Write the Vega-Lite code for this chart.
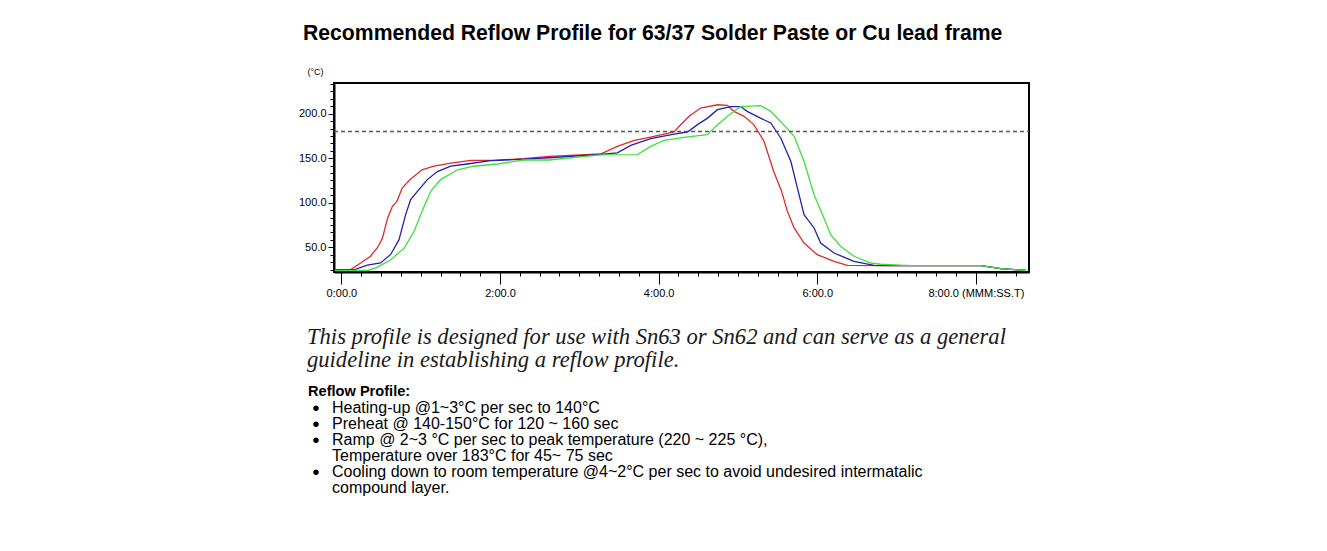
{
  "$schema": "https://vega.github.io/schema/vega-lite/v6.json",
  "padding": {"left": 297, "top": 21, "right": 0, "bottom": 0},
  "background": "white",
  "config": {
    "font": "Liberation Sans",
    "view": {"stroke": null},
    "axis": {"grid": false, "domainColor": "black", "tickColor": "black", "labelColor": "black", "labelFont": "Liberation Sans", "labelFontSize": 11, "titleColor": "black"}
  },
  "spacing": 26,
  "vconcat": [
    {
      "width": 695,
      "height": 189,
      "title": {"text": "Recommended Reflow Profile for 63/37 Solder Paste or Cu lead frame", "anchor": "start", "frame": "group", "dx": -31, "fontSize": 21.2, "fontWeight": "bold", "font": "Liberation Sans", "color": "black", "offset": 23},
      "view": {"stroke": "black", "strokeWidth": 2},
      "layer": [
        {
          "data": {"values": [
            {"s": "A", "t": -5, "T": 25}, {"s": "A", "t": 7, "T": 25}, {"s": "A", "t": 14.6, "T": 32.4}, {"s": "A", "t": 22, "T": 40}, {"s": "A", "t": 27, "T": 49}, {"s": "A", "t": 31, "T": 60}, {"s": "A", "t": 35, "T": 83}, {"s": "A", "t": 38.6, "T": 96}, {"s": "A", "t": 42, "T": 101.6}, {"s": "A", "t": 46, "T": 116.5}, {"s": "A", "t": 52, "T": 126}, {"s": "A", "t": 61, "T": 137}, {"s": "A", "t": 70, "T": 141}, {"s": "A", "t": 83, "T": 144.6}, {"s": "A", "t": 98, "T": 147.6}, {"s": "A", "t": 115.5, "T": 147.6}, {"s": "A", "t": 138, "T": 149.5}, {"s": "A", "t": 157, "T": 152}, {"s": "A", "t": 196, "T": 154.7}, {"s": "A", "t": 208.8, "T": 163.3}, {"s": "A", "t": 221, "T": 169.7}, {"s": "A", "t": 236.5, "T": 174.6}, {"s": "A", "t": 251.6, "T": 179.4}, {"s": "A", "t": 256.7, "T": 187.6}, {"s": "A", "t": 263, "T": 197}, {"s": "A", "t": 271.8, "T": 206.3}, {"s": "A", "t": 284.5, "T": 210}, {"s": "A", "t": 292, "T": 209.3}, {"s": "A", "t": 297, "T": 202.6}, {"s": "A", "t": 304.6, "T": 197}, {"s": "A", "t": 312, "T": 187.7}, {"s": "A", "t": 319.7, "T": 169}, {"s": "A", "t": 327, "T": 135.3}, {"s": "A", "t": 333, "T": 113}, {"s": "A", "t": 337.4, "T": 90.4}, {"s": "A", "t": 342.5, "T": 71.7}, {"s": "A", "t": 350, "T": 54.8}, {"s": "A", "t": 360, "T": 41.7}, {"s": "A", "t": 372.7, "T": 34.3}, {"s": "A", "t": 382.8, "T": 29.8}, {"s": "A", "t": 408, "T": 29.5}, {"s": "A", "t": 484, "T": 29.5}, {"s": "A", "t": 498.8, "T": 26}, {"s": "A", "t": 518, "T": 24},
            {"s": "B", "t": -5, "T": 25}, {"s": "B", "t": 10, "T": 25}, {"s": "B", "t": 19.7, "T": 30}, {"s": "B", "t": 29.7, "T": 32.4}, {"s": "B", "t": 37.3, "T": 42}, {"s": "B", "t": 43.6, "T": 58.6}, {"s": "B", "t": 48.6, "T": 86.7}, {"s": "B", "t": 52.4, "T": 103.5}, {"s": "B", "t": 57.5, "T": 112.8}, {"s": "B", "t": 65, "T": 126}, {"s": "B", "t": 72.6, "T": 135}, {"s": "B", "t": 82.7, "T": 141}, {"s": "B", "t": 95, "T": 143.5}, {"s": "B", "t": 113, "T": 147.3}, {"s": "B", "t": 138, "T": 149}, {"s": "B", "t": 157, "T": 150.5}, {"s": "B", "t": 196, "T": 154.2}, {"s": "B", "t": 208.8, "T": 156}, {"s": "B", "t": 218.9, "T": 164.4}, {"s": "B", "t": 234, "T": 172}, {"s": "B", "t": 251.6, "T": 177}, {"s": "B", "t": 261.8, "T": 179.4}, {"s": "B", "t": 269.4, "T": 187.7}, {"s": "B", "t": 277, "T": 195}, {"s": "B", "t": 284.5, "T": 204.5}, {"s": "B", "t": 294.5, "T": 208}, {"s": "B", "t": 302, "T": 208}, {"s": "B", "t": 307, "T": 202.6}, {"s": "B", "t": 317, "T": 195}, {"s": "B", "t": 324.8, "T": 189.5}, {"s": "B", "t": 332.4, "T": 172.7}, {"s": "B", "t": 340, "T": 146.5}, {"s": "B", "t": 345, "T": 116.5}, {"s": "B", "t": 350, "T": 86.7}, {"s": "B", "t": 357.6, "T": 71.7}, {"s": "B", "t": 362.6, "T": 54.8}, {"s": "B", "t": 372.7, "T": 43.6}, {"s": "B", "t": 387.8, "T": 34.3}, {"s": "B", "t": 403, "T": 29.8}, {"s": "B", "t": 420, "T": 29.5}, {"s": "B", "t": 484, "T": 29.5}, {"s": "B", "t": 498.8, "T": 26}, {"s": "B", "t": 518, "T": 24},
            {"s": "C", "t": -5, "T": 24}, {"s": "C", "t": 20, "T": 24}, {"s": "C", "t": 27, "T": 27.5}, {"s": "C", "t": 37.3, "T": 36}, {"s": "C", "t": 47.4, "T": 49}, {"s": "C", "t": 55, "T": 68}, {"s": "C", "t": 61, "T": 90.4}, {"s": "C", "t": 67.6, "T": 112.8}, {"s": "C", "t": 75, "T": 126}, {"s": "C", "t": 87.8, "T": 137}, {"s": "C", "t": 100, "T": 141}, {"s": "C", "t": 118, "T": 143.5}, {"s": "C", "t": 138, "T": 148}, {"s": "C", "t": 157, "T": 148}, {"s": "C", "t": 196, "T": 153.7}, {"s": "C", "t": 224, "T": 154}, {"s": "C", "t": 234, "T": 163.3}, {"s": "C", "t": 244, "T": 170}, {"s": "C", "t": 259, "T": 173.4}, {"s": "C", "t": 277, "T": 176.4}, {"s": "C", "t": 282, "T": 184}, {"s": "C", "t": 292, "T": 197}, {"s": "C", "t": 302, "T": 208}, {"s": "C", "t": 317, "T": 209}, {"s": "C", "t": 324.8, "T": 202.6}, {"s": "C", "t": 332.4, "T": 191}, {"s": "C", "t": 342.5, "T": 174.6}, {"s": "C", "t": 350, "T": 146.5}, {"s": "C", "t": 357.6, "T": 109}, {"s": "C", "t": 365, "T": 83}, {"s": "C", "t": 370.2, "T": 64.2}, {"s": "C", "t": 377.8, "T": 51}, {"s": "C", "t": 387.8, "T": 40}, {"s": "C", "t": 400.5, "T": 32.4}, {"s": "C", "t": 408, "T": 31}, {"s": "C", "t": 430, "T": 29.5}, {"s": "C", "t": 484, "T": 29.5}, {"s": "C", "t": 498.8, "T": 26}, {"s": "C", "t": 518, "T": 24}
          ]},
          "mark": {"type": "line", "strokeWidth": 1.3},
          "encoding": {
            "x": {"field": "t", "type": "quantitative", "scale": {"domain": [-5.6, 520.2], "nice": false, "zero": false},
                  "axis": {"orient": "bottom", "title": null, "values": [0, 120, 240, 360, 480], "labelExpr": "datum.value == 480 ? '8:00.0 (MMM:SS.T)' : floor(datum.value / 60) + ':00.0'", "tickSize": 12, "tickWidth": 1, "domainWidth": 2, "labelPadding": 3, "labelFlush": false, "labelOverlap": false, "labelBound": false}},
            "y": {"field": "T", "type": "quantitative", "scale": {"domain": [22.3, 234.4], "nice": false, "zero": false},
                  "axis": {"orient": "left", "title": "(°C)", "titleAngle": 0, "titleAlign": "left", "titleBaseline": "middle", "titleX": -27, "titleY": -12, "titleFontSize": 9, "titleFontWeight": "normal", "values": [50, 100, 150, 200], "format": ".1f", "tickSize": 6, "tickWidth": 1, "domainWidth": 2, "labelPadding": 2}},
            "color": {"field": "s", "type": "nominal", "scale": {"domain": ["A", "B", "C"], "range": ["#e02a2a", "#2222aa", "#3ce03c"]}, "legend": null}
          }
        },
        {
          "data": {"values": [{"limit": 180}]},
          "mark": {"type": "rule", "strokeDash": [4, 3], "color": "#555555", "strokeWidth": 1.5},
          "encoding": {
            "x": {"datum": -5.6, "type": "quantitative", "axis": {"orient": "bottom", "title": null, "labels": false, "domain": false, "tickSize": 4, "tickWidth": 1, "values": [15, 30, 45, 60, 75, 90, 105, 135, 150, 165, 180, 195, 210, 225, 255, 270, 285, 300, 315, 330, 345, 375, 390, 405, 420, 435, 450, 465, 495, 510]}},
            "x2": {"datum": 520.2},
            "y": {"field": "limit", "type": "quantitative", "axis": {"orient": "left", "title": null, "labels": false, "domain": false, "tickSize": 4, "tickWidth": 1, "values": [25, 33.33, 41.67, 58.33, 66.67, 75, 83.33, 91.67, 108.33, 116.67, 125, 133.33, 141.67, 158.33, 166.67, 175, 183.33, 191.67, 208.33, 216.67, 225, 233.33]}}
          }
        }
      ],
      "resolve": {"axis": {"x": "independent", "y": "independent"}}
    },
    {
      "spacing": 12,
      "vconcat": [
        {
          "width": 695,
          "height": {"step": 23},
          "data": {"values": [
            {"line": 1, "text": "This profile is designed for use with Sn63 or Sn62  and can serve as a general"},
            {"line": 2, "text": "guideline in establishing a reflow profile."}
          ]},
          "mark": {"type": "text", "align": "left", "baseline": "middle", "font": "Liberation Serif", "fontStyle": "italic", "fontSize": 22.6, "dx": -27, "color": "#1a1a1a"},
          "encoding": {
            "x": {"datum": 0, "type": "quantitative", "scale": {"domain": [0, 1]}, "axis": null},
            "y": {"field": "line", "type": "ordinal", "axis": null},
            "text": {"field": "text"}
          }
        },
        {
          "width": 695,
          "height": {"step": 16},
          "data": {"values": [
            {"line": 0, "kind": "heading", "text": "Reflow Profile:"},
            {"line": 1, "kind": "bullet", "text": "Heating-up @1~3°C per sec to 140°C"},
            {"line": 2, "kind": "bullet", "text": "Preheat @ 140-150°C for 120 ~ 160 sec"},
            {"line": 3, "kind": "bullet", "text": "Ramp @ 2~3 °C per sec to  peak temperature (220 ~ 225 °C),"},
            {"line": 4, "kind": "cont", "text": "Temperature over 183°C for 45~ 75  sec"},
            {"line": 5, "kind": "bullet", "text": "Cooling down to room temperature @4~2°C per sec to avoid undesired intermatalic"},
            {"line": 6, "kind": "cont", "text": "compound layer."}
          ]},
          "encoding": {
            "x": {"datum": 0, "type": "quantitative", "scale": {"domain": [0, 1]}, "axis": null},
            "y": {"field": "line", "type": "ordinal", "axis": null}
          },
          "layer": [
            {"transform": [{"filter": "datum.kind == 'heading'"}], "mark": {"type": "text", "align": "left", "baseline": "middle", "fontSize": 14.6, "fontWeight": "bold", "dx": -26, "color": "black"}, "encoding": {"text": {"field": "text"}}},
            {"transform": [{"filter": "datum.kind != 'heading'"}], "mark": {"type": "text", "align": "left", "baseline": "middle", "fontSize": 16, "dx": -2, "color": "black"}, "encoding": {"text": {"field": "text"}}},
            {"transform": [{"filter": "datum.kind == 'bullet'"}], "mark": {"type": "text", "align": "left", "baseline": "middle", "fontSize": 13, "dx": -22, "text": "●", "color": "black"}}
          ]
        }
      ]
    }
  ]
}
